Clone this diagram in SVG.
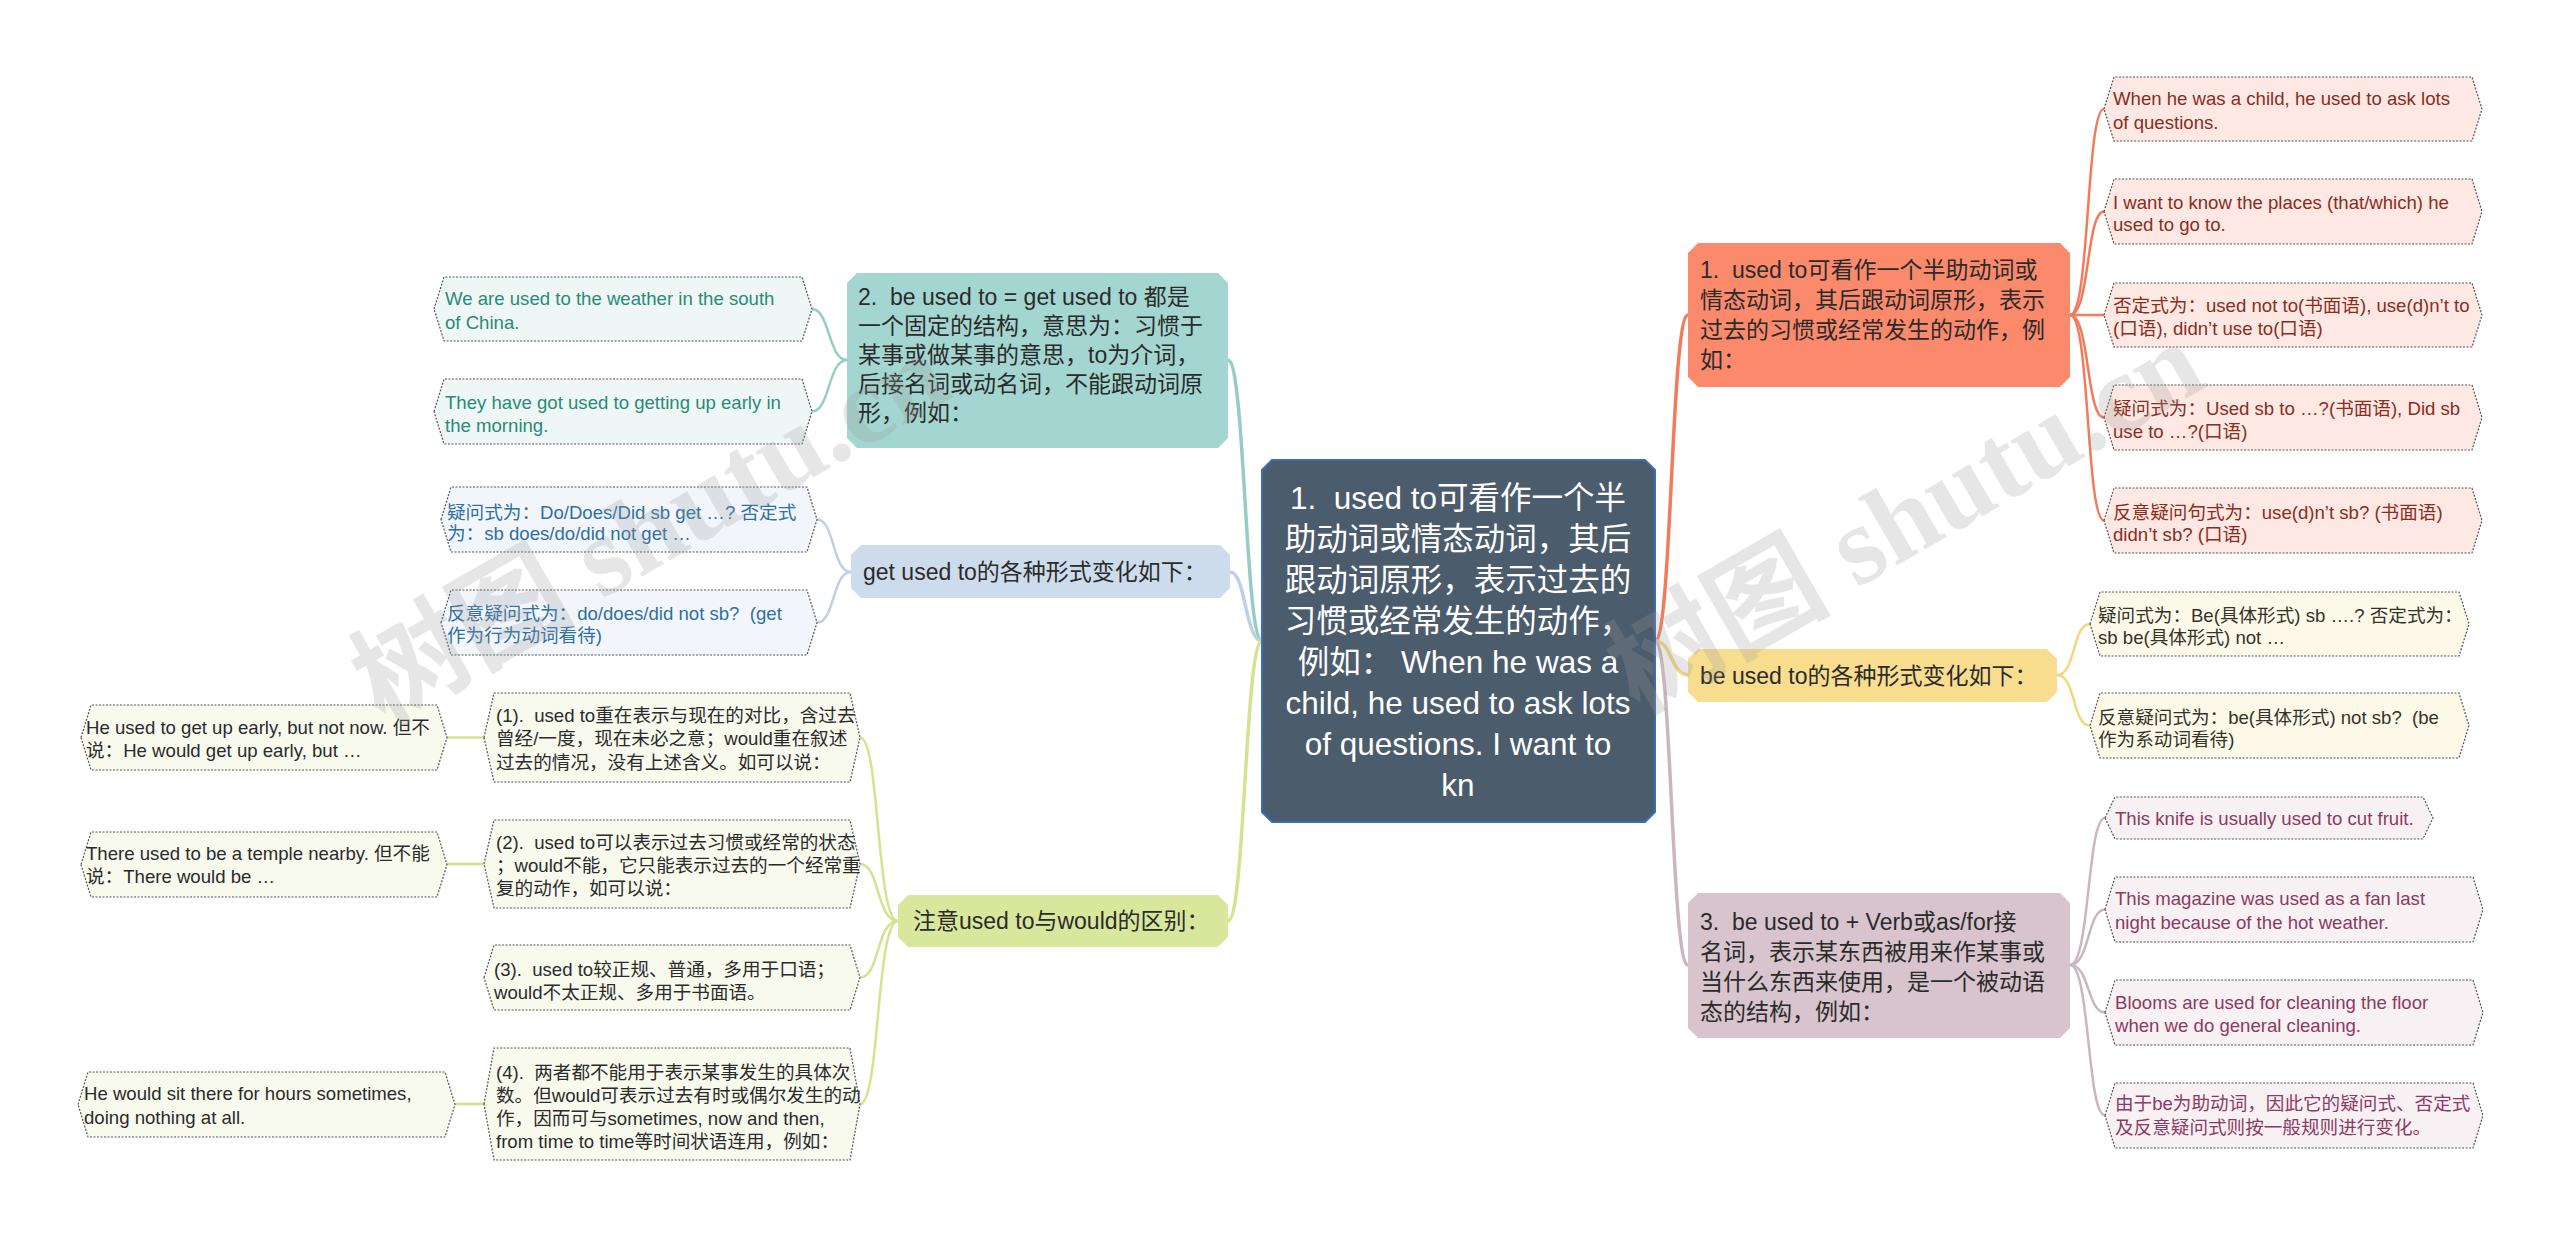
<svg xmlns="http://www.w3.org/2000/svg" width="2560" height="1237" viewBox="0 0 2560 1237">
<style>
text{font-family:"Liberation Sans","Noto Sans CJK SC",sans-serif;white-space:pre}
.c{fill:none;stroke-linecap:round}
.m{stroke-width:3.5}
.s{stroke-width:2.5}
.leaf{stroke:#555;stroke-width:1.2;stroke-dasharray:2 1.5}
.t19{font-size:18.6px}
.t23{font-size:23px;fill:#2b2b2b}
.wm{font-family:"Liberation Serif","Noto Sans CJK SC",serif;font-size:112px;font-weight:bold;fill:#9a9a9a;opacity:0.24}
</style>
<rect width="2560" height="1237" fill="#ffffff"/>
<g id="connectors">
<path class="c m" stroke="#f37b5b" d="M1655,641 C1672,641 1671,315 1688,315"/>
<path class="c m" stroke="#f3d67e" d="M1655,641 C1672,641 1671,675 1688,675"/>
<path class="c m" stroke="#cbb6bf" d="M1655,641 C1672,641 1671,965 1688,965"/>
<path class="c m" stroke="#95cdc5" d="M1262,641 C1245,641 1245,360 1228,360"/>
<path class="c m" stroke="#bed1e4" d="M1262,641 C1245,641 1246,572 1230,572"/>
<path class="c m" stroke="#d3e38f" d="M1262,641 C1245,641 1245,921 1228,921"/>
<g stroke="#f37b5b" class="c s">
<path d="M2070,315 C2090,315 2086,109 2104,109"/>
<path d="M2070,315 C2090,315 2086,211.5 2104,211.5"/>
<path d="M2070,315 C2090,315 2086,315 2104,315"/>
<path d="M2070,315 C2090,315 2086,417.5 2104,417.5"/>
<path d="M2070,315 C2090,315 2086,520.5 2104,520.5"/>
</g>
<g stroke="#f3d67e" class="c s">
<path d="M2057,675 C2076,675 2072,624 2090,624"/>
<path d="M2057,675 C2076,675 2072,725.5 2090,725.5"/>
</g>
<g stroke="#cbb6bf" class="c s">
<path d="M2070,965 C2090,965 2087,818 2105,818"/>
<path d="M2070,965 C2090,965 2087,909.5 2105,909.5"/>
<path d="M2070,965 C2090,965 2087,1012.5 2105,1012.5"/>
<path d="M2070,965 C2090,965 2087,1115.5 2105,1115.5"/>
</g>
<g stroke="#95cdc5" class="c s">
<path d="M847,360 C828,360 830,309 812,309"/>
<path d="M847,360 C828,360 830,411.5 812,411.5"/>
</g>
<g stroke="#bed1e4" class="c s">
<path d="M851,572 C832,572 835,519.5 817,519.5"/>
<path d="M851,572 C832,572 835,622.5 817,622.5"/>
</g>
<g stroke="#d3e38f" class="c s">
<path d="M898,921 C876,921 880,737.5 860,737.5"/>
<path d="M898,921 C876,921 880,864 860,864"/>
<path d="M898,921 C876,921 880,977.5 860,977.5"/>
<path d="M898,921 C876,921 880,1104 860,1104"/>
<path d="M484,737.5 L447,737.5"/>
<path d="M484,864 L447,864"/>
<path d="M484,1104 L455,1104"/>
</g>
</g>
<g id="center">
<polygon points="1272,460 1645,460 1655,470 1655,812 1645,822 1272,822 1262,812 1262,470" fill="#4b5c6d" stroke="#3d6db5" stroke-width="2"/>
<g fill="#ffffff" text-anchor="middle">
<text x="1458" y="509" font-size="31.5">1.  used to可看作一个半</text>
<text x="1458" y="550" font-size="31.5">助动词或情态动词，其后</text>
<text x="1458" y="591" font-size="31.5">跟动词原形，表示过去的</text>
<text x="1458" y="632" font-size="31.5">习惯或经常发生的动作，</text>
<text x="1458" y="673" font-size="31.5">例如： When he was a</text>
<text x="1458" y="714" font-size="31.5">child, he used to ask lots</text>
<text x="1458" y="755" font-size="31.5">of questions. I want to</text>
<text x="1458" y="796" font-size="31.5">kn</text>
</g>
</g>
<g id="n-orange">
<polygon points="1698,243 2060,243 2070,253 2070,377 2060,387 1698,387 1688,377 1688,253" fill="#fb8a6c"/>
<text class="t23" x="1700" y="278">1.  used to可看作一个半助动词或</text>
<text class="t23" x="1700" y="308">情态动词，其后跟动词原形，表示</text>
<text class="t23" x="1700" y="338">过去的习惯或经常发生的动作，例</text>
<text class="t23" x="1700" y="368">如：</text>
</g>
<g id="n-orange-leaves" fill="#8a2d1c">
<g id="o1"><polygon class="leaf" fill="#fde8e3" points="2104,109 2114,77 2472,77 2482,109 2472,141 2114,141"/>
<text class="t19" x="2113" y="105">When he was a child, he used to ask lots</text><text class="t19" x="2113" y="129">of questions.</text></g>
<g id="o2"><polygon class="leaf" fill="#fde8e3" points="2104,211.5 2114,179 2472,179 2482,211.5 2472,244 2114,244"/>
<text class="t19" x="2113" y="209">I want to know the places (that/which) he</text><text class="t19" x="2113" y="231">used to go to.</text></g>
<g id="o3"><polygon class="leaf" fill="#fde8e3" points="2104,315 2114,283 2472,283 2482,315 2472,347 2114,347"/>
<text class="t19" x="2113" y="312">否定式为：used not to(书面语), use(d)n’t to</text><text class="t19" x="2113" y="335">(口语), didn’t use to(口语)</text></g>
<g id="o4"><polygon class="leaf" fill="#fde8e3" points="2104,417.5 2114,385 2472,385 2482,417.5 2472,450 2114,450"/>
<text class="t19" x="2113" y="415">疑问式为：Used sb to …?(书面语), Did sb</text><text class="t19" x="2113" y="438">use to …?(口语)</text></g>
<g id="o5"><polygon class="leaf" fill="#fde8e3" points="2104,520.5 2114,488 2472,488 2482,520.5 2472,553 2114,553"/>
<text class="t19" x="2113" y="519">反意疑问句式为：use(d)n’t sb? (书面语)</text><text class="t19" x="2113" y="541">didn’t sb? (口语)</text></g>
</g>
<g id="n-yellow">
<polygon points="1698,649 2047,649 2057,659 2057,692 2047,702 1698,702 1688,692 1688,659" fill="#f8dd8f"/>
<text class="t23" x="1700" y="684">be used to的各种形式变化如下：</text>
</g>
<g id="n-yellow-leaves" fill="#33332a">
<g id="y1"><polygon class="leaf" fill="#fdf9e8" points="2090,624 2100,592 2459,592 2469,624 2459,656 2100,656"/>
<text class="t19" x="2098" y="622">疑问式为：Be(具体形式) sb ….? 否定式为：</text><text class="t19" x="2098" y="644">sb be(具体形式) not …</text></g>
<g id="y2"><polygon class="leaf" fill="#fdf9e8" points="2090,725.5 2100,693 2459,693 2469,725.5 2459,758 2100,758"/>
<text class="t19" x="2098" y="724">反意疑问式为：be(具体形式) not sb?  (be</text><text class="t19" x="2098" y="746">作为系动词看待)</text></g>
</g>
<g id="n-purple">
<polygon points="1698,893 2060,893 2070,903 2070,1028 2060,1038 1698,1038 1688,1028 1688,903" fill="#d8c4cd"/>
<text class="t23" x="1700" y="930">3.  be used to + Verb或as/for接</text>
<text class="t23" x="1700" y="960">名词，表示某东西被用来作某事或</text>
<text class="t23" x="1700" y="990">当什么东西来使用，是一个被动语</text>
<text class="t23" x="1700" y="1020">态的结构，例如：</text>
</g>
<g id="n-purple-leaves" fill="#8c3a62">
<g id="p1"><polygon class="leaf" fill="#f7f1f4" points="2105,818 2115,797 2423,797 2433,818 2423,839 2115,839"/>
<text class="t19" x="2115" y="825">This knife is usually used to cut fruit.</text></g>
<g id="p2"><polygon class="leaf" fill="#f7f1f4" points="2105,909.5 2115,877 2473,877 2483,909.5 2473,942 2115,942"/>
<text class="t19" x="2115" y="905">This magazine was used as a fan last</text><text class="t19" x="2115" y="929">night because of the hot weather.</text></g>
<g id="p3"><polygon class="leaf" fill="#f7f1f4" points="2105,1012.5 2115,980 2473,980 2483,1012.5 2473,1045 2115,1045"/>
<text class="t19" x="2115" y="1009">Blooms are used for cleaning the floor</text><text class="t19" x="2115" y="1032">when we do general cleaning.</text></g>
<g id="p4"><polygon class="leaf" fill="#f7f1f4" points="2105,1115.5 2115,1083 2473,1083 2483,1115.5 2473,1148 2115,1148"/>
<text class="t19" x="2115" y="1110">由于be为助动词，因此它的疑问式、否定式</text><text class="t19" x="2115" y="1134">及反意疑问式则按一般规则进行变化。</text></g>
</g>
<g id="n-teal">
<polygon points="857,273 1218,273 1228,283 1228,438 1218,448 857,448 847,438 847,283" fill="#a4d6d1"/>
<text class="t23" x="858" y="305">2.  be used to = get used to 都是</text>
<text class="t23" x="858" y="334">一个固定的结构，意思为：习惯于</text>
<text class="t23" x="858" y="363">某事或做某事的意思，to为介词，</text>
<text class="t23" x="858" y="392">后接名词或动名词，不能跟动词原</text>
<text class="t23" x="858" y="421">形，例如：</text>
</g>
<g id="n-teal-leaves" fill="#2b8a78">
<g id="t1"><polygon class="leaf" fill="#eef7f6" points="434,309 444,277 802,277 812,309 802,341 444,341"/>
<text class="t19" x="445" y="305">We are used to the weather in the south</text><text class="t19" x="445" y="329">of China.</text></g>
<g id="t2"><polygon class="leaf" fill="#eef7f6" points="434,411.5 444,379 802,379 812,411.5 802,444 444,444"/>
<text class="t19" x="445" y="409">They have got used to getting up early in</text><text class="t19" x="445" y="432">the morning.</text></g>
</g>
<g id="n-blue">
<polygon points="861,545 1220,545 1230,555 1230,588 1220,598 861,598 851,588 851,555" fill="#cddcec"/>
<text class="t23" x="863" y="580">get used to的各种形式变化如下：</text>
</g>
<g id="n-blue-leaves" fill="#2f6fa3">
<g id="b1"><polygon class="leaf" fill="#f2f6fb" points="441,519.5 451,487 807,487 817,519.5 807,552 451,552"/>
<text class="t19" x="447" y="519">疑问式为：Do/Does/Did sb get …? 否定式</text><text class="t19" x="447" y="540">为：sb does/do/did not get …</text></g>
<g id="b2"><polygon class="leaf" fill="#f2f6fb" points="441,622.5 451,590 807,590 817,622.5 807,655 451,655"/>
<text class="t19" x="447" y="620">反意疑问式为：do/does/did not sb?  (get</text><text class="t19" x="447" y="642">作为行为动词看待)</text></g>
</g>
<g id="n-green">
<polygon points="908,895 1218,895 1228,905 1228,937 1218,947 908,947 898,937 898,905" fill="#d9e79d"/>
<text class="t23" x="913" y="929">注意used to与would的区别：</text>
</g>
<g id="n-green-leaves" fill="#2b2b2b">
<g id="g1"><polygon class="leaf" fill="#f8faee" points="484,737.5 494,693 850,693 860,737.5 850,782 494,782"/>
<text class="t19" x="496" y="722">(1).  used to重在表示与现在的对比，含过去</text><text class="t19" x="496" y="745">曾经/一度，现在未必之意；would重在叙述</text><text class="t19" x="496" y="769">过去的情况，没有上述含义。如可以说：</text></g>
<g id="g2"><polygon class="leaf" fill="#f8faee" points="484,864 494,820 850,820 860,864 850,908 494,908"/>
<text class="t19" x="496" y="849">(2).  used to可以表示过去习惯或经常的状态</text><text class="t19" x="496" y="872">；would不能，它只能表示过去的一个经常重</text><text class="t19" x="496" y="895">复的动作，如可以说：</text></g>
<g id="g3"><polygon class="leaf" fill="#f8faee" points="484,977.5 494,945 850,945 860,977.5 850,1010 494,1010"/>
<text class="t19" x="494" y="976">(3).  used to较正规、普通，多用于口语；</text><text class="t19" x="494" y="999">would不太正规、多用于书面语。</text></g>
<g id="g4"><polygon class="leaf" fill="#f8faee" points="484,1104 494,1048 850,1048 860,1104 850,1160 494,1160"/>
<text class="t19" x="496" y="1079">(4).  两者都不能用于表示某事发生的具体次</text><text class="t19" x="496" y="1102">数。但would可表示过去有时或偶尔发生的动</text><text class="t19" x="496" y="1125">作，因而可与sometimes, now and then,</text><text class="t19" x="496" y="1148">from time to time等时间状语连用，例如：</text></g>
<g id="a1"><polygon class="leaf" fill="#f8faee" points="81,737.5 91,705 437,705 447,737.5 437,770 91,770"/>
<text class="t19" x="86" y="734">He used to get up early, but not now. 但不</text><text class="t19" x="86" y="757">说：He would get up early, but …</text></g>
<g id="a2"><polygon class="leaf" fill="#f8faee" points="81,864.5 91,832 437,832 447,864.5 437,897 91,897"/>
<text class="t19" x="86" y="860">There used to be a temple nearby. 但不能</text><text class="t19" x="86" y="883">说：There would be …</text></g>
<g id="a4"><polygon class="leaf" fill="#f8faee" points="78,1104.5 88,1072 445,1072 455,1104.5 445,1137 88,1137"/>
<text class="t19" x="84" y="1100">He would sit there for hours sometimes,</text><text class="t19" x="84" y="1124">doing nothing at all.</text></g>
</g>
<g id="watermarks">
<text class="wm" transform="translate(650,528) rotate(-30)" x="0" y="38" text-anchor="middle">树图 shutu.cn</text>
<text class="wm" transform="translate(1905,517) rotate(-30)" x="0" y="38" text-anchor="middle">树图 shutu.cn</text>
</g>
</svg>
